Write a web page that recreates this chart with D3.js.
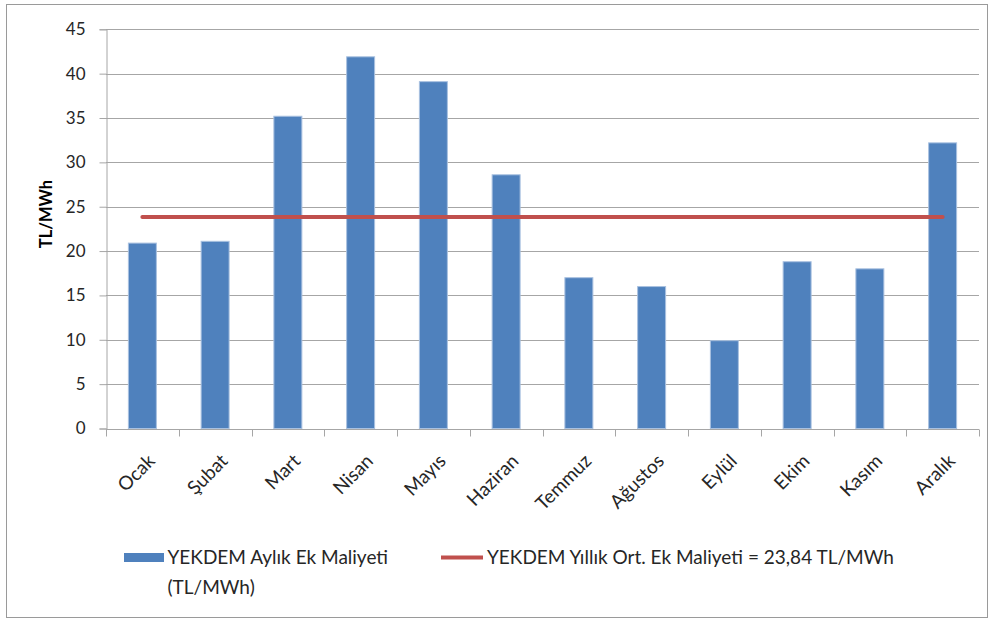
<!DOCTYPE html>
<html lang="tr">
<head>
<meta charset="utf-8">
<script src="https://cdn.jsdelivr.net/npm/d3@7"></script>
<style>
  html, body { margin: 0; padding: 0; background: #fff; }
  svg { display: block; font-family: Lato, "Open Sans", sans-serif; }
</style>
</head>
<body>
<svg id="chart" width="991" height="619"></svg>
<script>
// Monthly YEKDEM extra cost (TL/MWh) and the yearly average
const months = ["Ocak", "Şubat", "Mart", "Nisan", "Mayıs", "Haziran",
                "Temmuz", "Ağustos", "Eylül", "Ekim", "Kasım", "Aralık"];
const monthlyCost = [20.9, 21.1, 35.2, 41.9, 39.1, 28.6, 17.0, 16.0, 9.9, 18.8, 18.0, 32.2];
const yearlyAverage = 23.84;
const yTicks = [0, 5, 10, 15, 20, 25, 30, 35, 40, 45];
const yTitle = "TL/MWh";
const barLegend = ["YEKDEM Aylık Ek Maliyeti", "(TL/MWh)"];
const lineLegend = "YEKDEM Yıllık Ort. Ek Maliyeti = 23,84 TL/MWh";

const barColor = "#4f81bd";
const barEdge = "#a9c1e0";
const lineColor = "#c0504d";
const gridColor = "#a6a6a6";
const textColor = "#262626";

const svg = d3.select("#chart");
const plot = { left: 106, right: 979, top: 29.3, bottom: 428.5 };

// outer chart frame
svg.append("rect")
  .attr("x", 6.5).attr("y", 4.5)
  .attr("width", 981).attr("height", 613)
  .attr("fill", "#fff").attr("stroke", "#9a9a9a").attr("stroke-width", 1);

const x = d3.scaleBand().domain(months).range([plot.left, plot.right]).padding(0);
const y = d3.scaleLinear().domain([0, 45]).range([plot.bottom, plot.top]);

// horizontal gridlines
svg.append("g")
  .selectAll("line")
  .data(yTicks.filter(t => t > 0))
  .join("line")
  .attr("x1", plot.left).attr("x2", plot.right)
  .attr("y1", d => Math.round(y(d)) + 0.5).attr("y2", d => Math.round(y(d)) + 0.5)
  .attr("stroke", gridColor).attr("stroke-width", 1);

// y axis
const yAxis = svg.append("g")
  .attr("transform", `translate(${plot.left + 0.5},0)`)
  .call(d3.axisLeft(y).tickValues(yTicks).tickSize(7).tickPadding(14)
    .tickFormat(d3.format("d")));
yAxis.select(".domain").attr("stroke", gridColor);
yAxis.selectAll(".tick line").attr("stroke", gridColor);
yAxis.selectAll(".tick text")
  .attr("font-size", 17).attr("fill", textColor)
  .attr("font-family", "Lato, sans-serif");

// y axis title
svg.append("text")
  .attr("transform", "translate(52,214) rotate(-90)")
  .attr("text-anchor", "middle")
  .attr("font-size", 16.5).attr("font-weight", "bold").attr("fill", "#000")
  .text(yTitle);

// bars
const barW = x.bandwidth() / 2.6;
svg.append("g")
  .selectAll("rect")
  .data(months.map((m, i) => ({ m, v: monthlyCost[i] })))
  .join("rect")
  .attr("x", d => x(d.m) + (x.bandwidth() - barW) / 2)
  .attr("y", d => y(d.v))
  .attr("width", barW)
  .attr("height", d => y(0) - y(d.v))
  .attr("fill", barColor)
  .attr("stroke", barEdge).attr("stroke-width", 1);

// x axis with ticks between categories
const xAxisG = svg.append("g").attr("transform", `translate(0,${Math.round(plot.bottom) + 0.5})`);
xAxisG.append("line")
  .attr("x1", plot.left).attr("x2", plot.right)
  .attr("stroke", gridColor);
xAxisG.selectAll("line.tick")
  .data(months.map(m => x(m)).concat([plot.right]))
  .join("line")
  .attr("class", "tick")
  .attr("x1", d => Math.round(d) + 0.5).attr("x2", d => Math.round(d) + 0.5)
  .attr("y1", 0).attr("y2", 7)
  .attr("stroke", gridColor);
xAxisG.selectAll("text")
  .data(months)
  .join("text")
  .attr("transform", d => `translate(${x(d) + x.bandwidth() / 2 + 9},${28}) rotate(-45)`)
  .attr("text-anchor", "end")
  .attr("dy", "0.35em")
  .attr("font-size", 19).attr("fill", textColor)
  .text(d => d);

// yearly average line across category centres
const avgLine = d3.line().x(d => x(d) + x.bandwidth() / 2).y(() => y(yearlyAverage));
svg.append("path")
  .datum([months[0], months[months.length - 1]])
  .attr("d", avgLine)
  .attr("fill", "none")
  .attr("stroke", lineColor).attr("stroke-width", 4).attr("stroke-linecap", "round");

// legend
const legend = svg.append("g");
legend.append("rect")
  .attr("x", 124).attr("y", 553).attr("width", 40).attr("height", 9)
  .attr("fill", barColor);
legend.append("text")
  .attr("x", 167.5).attr("y", 564)
  .attr("font-size", 19).attr("fill", textColor)
  .selectAll("tspan")
  .data(barLegend)
  .join("tspan")
  .attr("x", 167.5)
  .attr("dy", (d, i) => i === 0 ? 0 : 30)
  .text(d => d);
legend.append("line")
  .attr("x1", 441).attr("x2", 483).attr("y1", 557.5).attr("y2", 557.5)
  .attr("stroke", lineColor).attr("stroke-width", 4);
legend.append("text")
  .attr("x", 487).attr("y", 564)
  .attr("font-size", 19).attr("fill", textColor)
  .text(lineLegend);
</script>
</body>
</html>
